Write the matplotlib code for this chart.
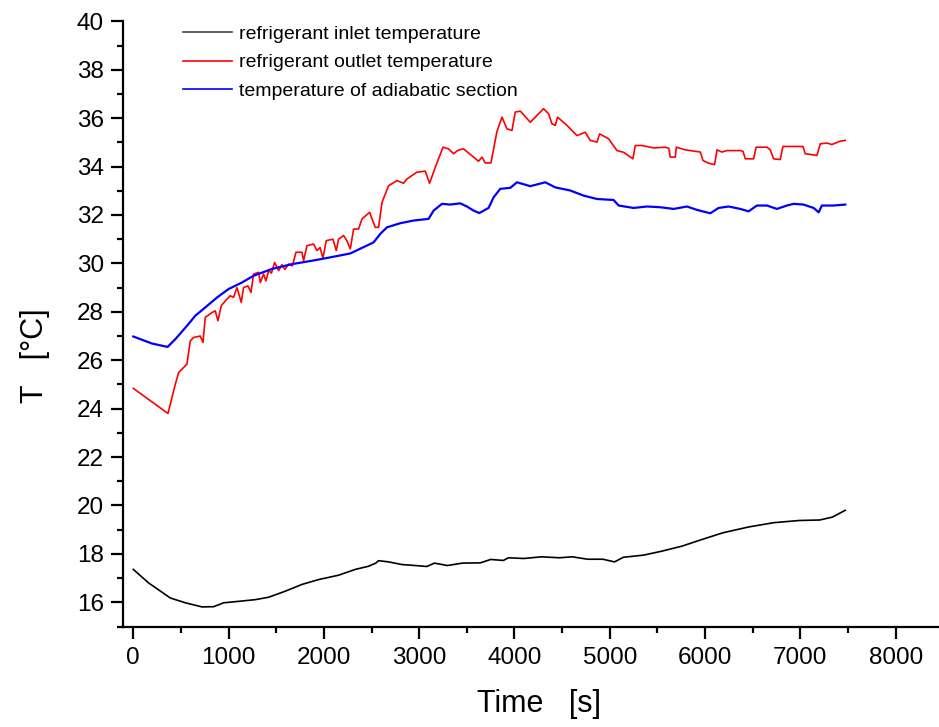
import matplotlib
matplotlib.use('Agg')
import matplotlib.pyplot as plt
from matplotlib.ticker import MultipleLocator

plt.rcParams['font.family'] = ['Liberation Sans', 'DejaVu Sans']

# refrigerant inlet temperature
t_in = [0, 161, 388, 546, 721, 843, 948, 1105, 1280, 1420, 1595, 1770, 1945,
        2154, 2330, 2469, 2545, 2574, 2679, 2819, 2959, 3080, 3161, 3295, 3455,
        3641, 3750, 3883, 3937, 4098, 4284, 4472, 4606, 4766, 4928, 5050, 5142,
        5356, 5543, 5757, 5971, 6185, 6454, 6721, 6989, 7203, 7336, 7470]
T_in = [17.36, 16.80, 16.18, 15.98, 15.81, 15.82, 15.98, 16.04, 16.11, 16.21,
        16.46, 16.74, 16.94, 17.12, 17.36, 17.49, 17.62, 17.72, 17.67, 17.56,
        17.52, 17.48, 17.62, 17.52, 17.62, 17.63, 17.77, 17.73, 17.84, 17.81,
        17.88, 17.84, 17.88, 17.78, 17.78, 17.67, 17.86, 17.95, 18.11, 18.32,
        18.60, 18.87, 19.11, 19.29, 19.38, 19.40, 19.52, 19.80]

# refrigerant outlet temperature
t_out = [0, 364, 441, 476, 528, 563, 598, 633, 703, 731, 755, 825, 860, 888,
         923, 983, 1018, 1052, 1088, 1133, 1157, 1203, 1235, 1262, 1315, 1333,
         1367, 1392, 1420, 1450, 1483, 1525, 1560, 1590, 1630, 1670, 1707, 1770,
         1787, 1822, 1892, 1927, 1960, 1990, 2025, 2095, 2130, 2154, 2207, 2240,
         2277, 2312, 2364, 2400, 2480, 2505, 2539, 2574, 2610, 2679, 2767, 2836,
         2872, 2977, 3064, 3109, 3169, 3250, 3308, 3361, 3410, 3466, 3623, 3659,
         3693, 3753, 3816, 3869, 3921, 3974, 4008, 4061, 4166, 4236, 4305, 4358,
         4393, 4428, 4452, 4551, 4656, 4743, 4795, 4866, 4893, 4987, 5075, 5145,
         5243, 5268, 5338, 5460, 5582, 5620, 5635, 5687, 5698, 5792, 5897, 5950,
         5978, 6037, 6100, 6125, 6177, 6230, 6369, 6398, 6422, 6509, 6537, 6650,
         6684, 6719, 6789, 6817, 6929, 7027, 7051, 7174, 7209, 7279, 7331, 7419,
         7471]
T_out = [24.84, 23.80, 25.01, 25.49, 25.70, 25.84, 26.80, 26.94, 27.00, 26.73,
         27.77, 27.97, 28.04, 27.63, 28.25, 28.53, 28.66, 28.60, 29.00, 28.39,
         29.00, 29.07, 28.80, 29.56, 29.63, 29.21, 29.56, 29.28, 29.70, 29.60,
         30.04, 29.70, 29.95, 29.75, 29.97, 29.90, 30.46, 30.46, 30.11, 30.73,
         30.80, 30.53, 30.65, 30.22, 30.94, 31.00, 30.53, 31.00, 31.15, 30.95,
         30.60, 31.42, 31.42, 31.84, 32.11, 31.84, 31.49, 31.49, 32.52, 33.21,
         33.42, 33.31, 33.49, 33.77, 33.81, 33.31, 33.97, 34.80, 34.73, 34.53,
         34.68, 34.73, 34.22, 34.39, 34.15, 34.15, 35.45, 36.04, 35.56, 35.49,
         36.25, 36.29, 35.83, 36.11, 36.39, 36.18, 35.77, 35.70, 36.04, 35.70,
         35.28, 35.42, 35.08, 35.01, 35.35, 35.15, 34.66, 34.59, 34.32, 34.87,
         34.87, 34.77, 34.80, 34.75, 34.39, 34.39, 34.80, 34.69, 34.63, 34.60,
         34.25, 34.14, 34.08, 34.69, 34.60, 34.66, 34.66, 34.63, 34.32, 34.32,
         34.80, 34.80, 34.69, 34.32, 34.29, 34.83, 34.83, 34.83, 34.53, 34.46,
         34.94, 34.97, 34.91, 35.05, 35.08]

# temperature of adiabatic section
t_ad = [0, 196, 360, 441, 563, 651, 755, 878, 1000, 1140, 1262, 1455, 1665,
        1875, 2015, 2277, 2522, 2592, 2662, 2802, 2941, 3099, 3151, 3239, 3326,
        3431, 3501, 3571, 3631, 3728, 3781, 3851, 3956, 4026, 4166, 4323, 4428,
        4586, 4725, 4866, 5040, 5093, 5250, 5390, 5530, 5670, 5810, 5915, 6055,
        6142, 6247, 6369, 6457, 6544, 6650, 6754, 6859, 6929, 7034, 7139, 7192,
        7226, 7348, 7471]
T_ad = [26.98, 26.69, 26.55, 26.87, 27.42, 27.84, 28.18, 28.59, 28.94, 29.21,
        29.49, 29.77, 29.97, 30.11, 30.21, 30.41, 30.87, 31.22, 31.49, 31.66,
        31.77, 31.84, 32.18, 32.46, 32.43, 32.48, 32.35, 32.18, 32.08, 32.29,
        32.73, 33.08, 33.12, 33.35, 33.19, 33.35, 33.14, 33.01, 32.80, 32.66,
        32.62, 32.39, 32.29, 32.35, 32.32, 32.25, 32.35, 32.21, 32.07, 32.29,
        32.35, 32.25, 32.15, 32.39, 32.39, 32.25, 32.39, 32.46, 32.43, 32.29,
        32.11, 32.39, 32.39, 32.43]

fig = plt.figure(figsize=(9.39, 7.27), dpi=100)
ax = fig.add_axes([0.131, 0.1382, 0.868, 0.8325])

ax.plot(t_in, T_in, color='black', lw=1.2, label='refrigerant inlet temperature')
ax.plot(t_out, T_out, color='red', lw=1.2, label='refrigerant outlet temperature')
ax.plot(t_ad, T_ad, color='blue', lw=1.6, label='temperature of adiabatic section')

ax.set_xlim(-108, 8445)
ax.set_ylim(15, 40)
ax.xaxis.set_major_locator(MultipleLocator(1000))
ax.xaxis.set_minor_locator(MultipleLocator(500))
ax.yaxis.set_major_locator(MultipleLocator(2))
ax.yaxis.set_minor_locator(MultipleLocator(1))

ax.spines['top'].set_visible(False)
ax.spines['right'].set_visible(False)
ax.spines['left'].set_linewidth(1.6)
ax.spines['bottom'].set_linewidth(1.6)
ax.tick_params(which='major', direction='out', length=8.6, width=1.6, labelsize=17.5)
ax.tick_params(which='minor', direction='out', length=4.3, width=1.6)
ax.tick_params(axis='x', which='major', pad=6)
ax.tick_params(axis='y', which='major', pad=5)

ax.set_xlabel('Time   [s]', fontsize=22)
ax.set_ylabel('T   [°C]', fontsize=22)
ax.xaxis.set_label_coords(0.51, -0.103)
ax.yaxis.set_label_coords(-0.09, 0.448)

leg = ax.legend(loc='upper left', bbox_to_anchor=(0.0737, 0.993), frameon=False,
                fontsize=14, handlelength=2.5, handletextpad=0.4,
                labelspacing=0.55, borderaxespad=0, borderpad=0)
for ln in leg.get_lines():
    ln.set_linewidth(1.2)
leg.get_lines()[0].set_color('#444444')

plt.savefig('out.png', dpi=100)
